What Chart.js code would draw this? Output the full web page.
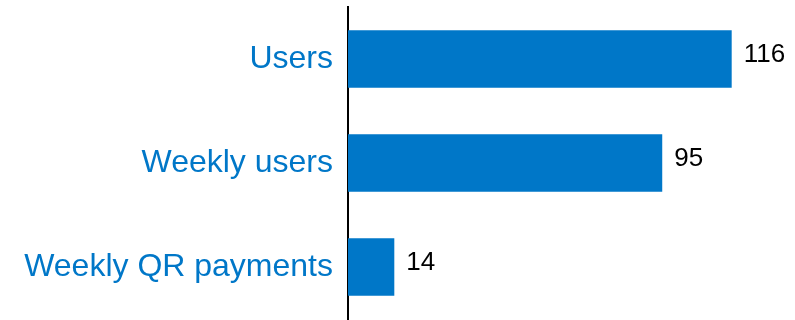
<!DOCTYPE html>
<html lang="en">
<head>
    <title>Usage</title>
    <meta charset="utf-8">
    <script src="https://cdn.jsdelivr.net/npm/chart.js@4.4.0/dist/chart.umd.js"></script>
    <style>
        html, body { margin: 0; padding: 0; background: #fff; }
        #wrap { width: 795px; height: 320px; position: relative; }
    </style>
</head>
<body>
    <div id="wrap"><canvas id="usageChart"></canvas></div>

    <script>
        // Data
        const categories = ['Users', 'Weekly users', 'Weekly QR payments'];
        const values = [116, 95, 14];

        const blue = '#0077C8';
        const fontFamily = '"Liberation Sans", Arial, sans-serif';

        // Writes the value just past the end of each bar
        const valueLabels = {
            id: 'valueLabels',
            afterDatasetsDraw(chart) {
                const ctx = chart.ctx;
                const meta = chart.getDatasetMeta(0);
                ctx.save();
                ctx.font = '26px ' + fontFamily;
                ctx.fillStyle = '#000';
                ctx.textBaseline = 'middle';
                ctx.textAlign = 'left';
                meta.data.forEach((bar, i) => {
                    ctx.fillText(String(values[i]), bar.x + 12, bar.y - 4);
                });
                ctx.restore();
            }
        };

        const ctx = document.getElementById('usageChart').getContext('2d');
        const chart = new Chart(ctx, {
            type: 'bar',
            data: {
                labels: categories,
                datasets: [{
                    data: values,
                    backgroundColor: blue,
                    borderWidth: 0,
                    categoryPercentage: 1,
                    barPercentage: 0.555,
                }],
            },
            options: {
                indexAxis: 'y',
                responsive: true,
                maintainAspectRatio: false,
                animation: false,
                layout: { padding: { top: 7, bottom: 1, right: 17, left: 0 } },
                plugins: {
                    legend: { display: false },
                    tooltip: { enabled: false },
                },
                scales: {
                    x: {
                        min: 0,
                        max: 130,
                        display: false,
                    },
                    y: {
                        grid: { display: false, drawTicks: false },
                        border: { display: true, color: '#000', width: 2 },
                        ticks: {
                            color: blue,
                            padding: 15,
                            font: { family: fontFamily, size: 32 },
                        },
                        afterFit(scale) {
                            // keep the axis at a fixed spot and let labels overhang nothing
                            scale.width = 348;
                            scale.paddingTop = 0;
                            scale.paddingBottom = 0;
                        },
                    },
                },
            },
            plugins: [valueLabels],
        });
    </script>
</body>
</html>
